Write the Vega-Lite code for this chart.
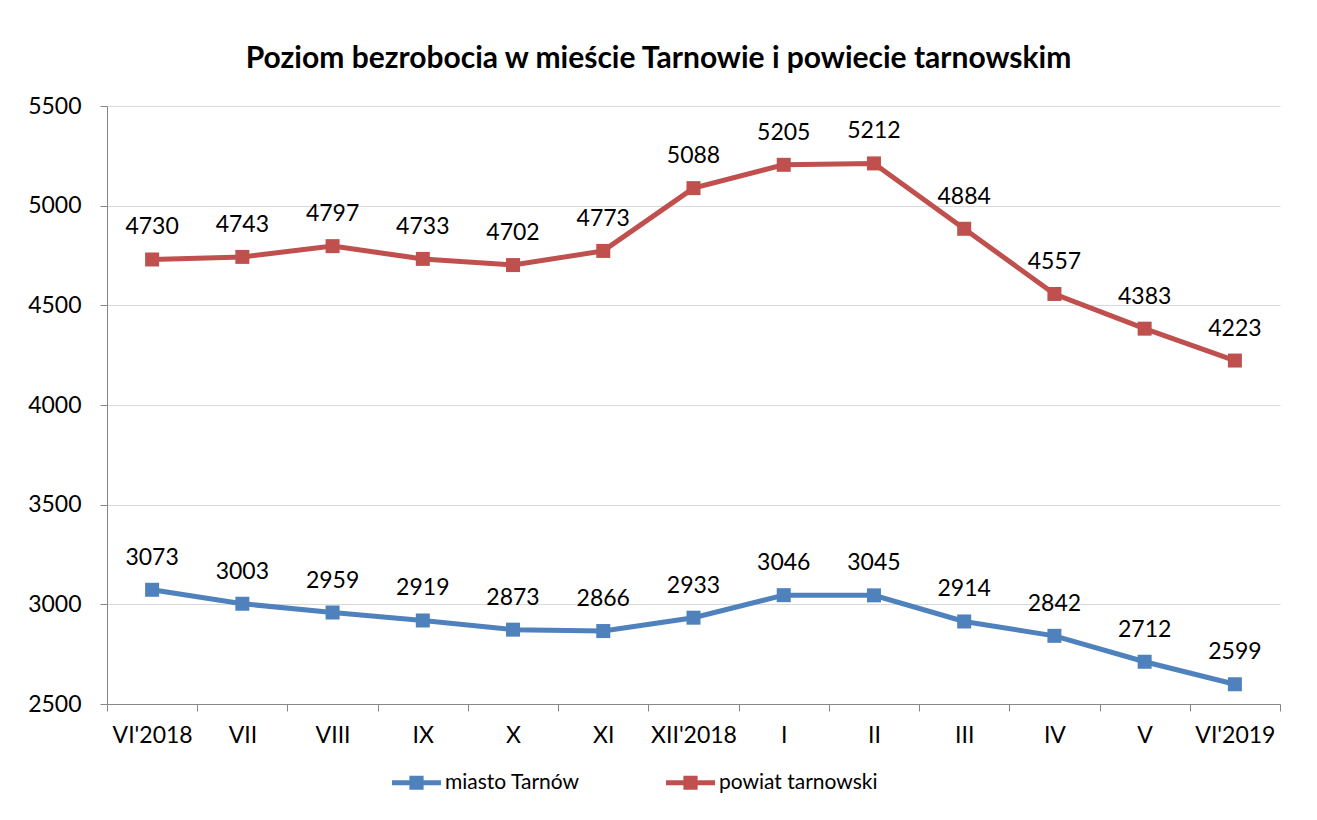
{
  "$schema": "https://vega.github.io/schema/vega-lite/v6.json",
  "width": 1173,
  "height": 598,
  "autosize": "none",
  "padding": {"left": 107, "top": 106, "right": 37, "bottom": 116},
  "background": "white",
  "config": {"font": "Lato", "view": {"stroke": null}},
  "title": {"text": "Poziom bezrobocia w mieście Tarnowie i powiecie tarnowskim", "fontSize": 30, "fontWeight": "bold", "color": "black", "anchor": "middle", "dx": -35, "offset": 21},
  "datasets": {
    "d": [
      {"miesiac": "VI'2018", "seria": "miasto Tarnów", "wartosc": 3073},
      {"miesiac": "VII", "seria": "miasto Tarnów", "wartosc": 3003},
      {"miesiac": "VIII", "seria": "miasto Tarnów", "wartosc": 2959},
      {"miesiac": "IX", "seria": "miasto Tarnów", "wartosc": 2919},
      {"miesiac": "X", "seria": "miasto Tarnów", "wartosc": 2873},
      {"miesiac": "XI", "seria": "miasto Tarnów", "wartosc": 2866},
      {"miesiac": "XII'2018", "seria": "miasto Tarnów", "wartosc": 2933},
      {"miesiac": "I", "seria": "miasto Tarnów", "wartosc": 3046},
      {"miesiac": "II", "seria": "miasto Tarnów", "wartosc": 3045},
      {"miesiac": "III", "seria": "miasto Tarnów", "wartosc": 2914},
      {"miesiac": "IV", "seria": "miasto Tarnów", "wartosc": 2842},
      {"miesiac": "V", "seria": "miasto Tarnów", "wartosc": 2712},
      {"miesiac": "VI'2019", "seria": "miasto Tarnów", "wartosc": 2599},
      {"miesiac": "VI'2018", "seria": "powiat tarnowski", "wartosc": 4730},
      {"miesiac": "VII", "seria": "powiat tarnowski", "wartosc": 4743},
      {"miesiac": "VIII", "seria": "powiat tarnowski", "wartosc": 4797},
      {"miesiac": "IX", "seria": "powiat tarnowski", "wartosc": 4733},
      {"miesiac": "X", "seria": "powiat tarnowski", "wartosc": 4702},
      {"miesiac": "XI", "seria": "powiat tarnowski", "wartosc": 4773},
      {"miesiac": "XII'2018", "seria": "powiat tarnowski", "wartosc": 5088},
      {"miesiac": "I", "seria": "powiat tarnowski", "wartosc": 5205},
      {"miesiac": "II", "seria": "powiat tarnowski", "wartosc": 5212},
      {"miesiac": "III", "seria": "powiat tarnowski", "wartosc": 4884},
      {"miesiac": "IV", "seria": "powiat tarnowski", "wartosc": 4557},
      {"miesiac": "V", "seria": "powiat tarnowski", "wartosc": 4383},
      {"miesiac": "VI'2019", "seria": "powiat tarnowski", "wartosc": 4223}
    ]
  },
  "data": {"name": "d"},
  "encoding": {
    "x": {
      "field": "miesiac", "type": "ordinal", "sort": null,
      "scale": {"paddingInner": 0, "paddingOuter": 0},
      "axis": {"title": null, "labelAngle": 0, "labelFontSize": 23, "labelColor": "black", "domainColor": "#868686", "tickColor": "#868686", "tickBand": "extent", "tickSize": 7, "labelPadding": 13, "grid": false}
    },
    "y": {
      "field": "wartosc", "type": "quantitative",
      "scale": {"domain": [2500, 5500], "nice": false, "zero": false},
      "axis": {"title": null, "format": "d", "values": [2500, 3000, 3500, 4000, 4500, 5000, 5500], "labelFontSize": 23, "labelColor": "black", "labelPadding": 19, "tickSize": 7, "gridColor": "#D9D9D9", "domainColor": "#868686", "tickColor": "#868686"}
    },
    "color": {"field": "seria", "type": "nominal", "scale": {"domain": ["miasto Tarnów", "powiat tarnowski"], "range": ["#4F81BD", "#C0504D"]},
      "legend": {"title": null, "orient": "none", "direction": "horizontal", "legendX": 285, "legendY": 652, "padding": 0, "symbolType": "M-1,-0.1H1V0.1H-1Z M-0.29,-0.29H0.29V0.29H-0.29Z", "symbolSize": 2401, "symbolStrokeWidth": 0, "labelFontSize": 21, "labelLimit": 0, "labelColor": "black", "labelOffset": 4, "columnPadding": 86}
    }
  },
  "layer": [
    {
      "mark": {"type": "line", "strokeWidth": 5}
    },
    {
      "mark": {"type": "point", "shape": "square", "filled": true, "size": 196, "opacity": 1}
    },
    {
      "mark": {"type": "text", "baseline": "alphabetic", "dy": -25, "fontSize": 23},
      "encoding": {"text": {"field": "wartosc", "type": "quantitative"}, "color": {"value": "black"}}
    }
  ]
}
